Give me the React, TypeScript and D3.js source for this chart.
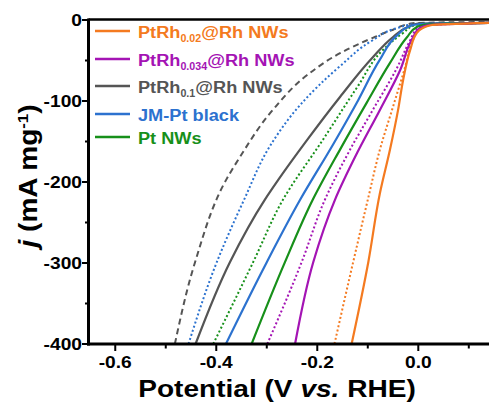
import React from "react";
import * as d3 from "d3";

type Pt = [number, number];

// Data: [potential (V vs RHE), j (mA mg^-1)]
const ptRh002Solid: Pt[] = [[-0.132, -400], [-0.099, -299], [-0.076, -214], [-0.056, -160], [-0.04, -111], [-0.03, -74], [-0.016, -37], [-0.003, -16], [0.009, -9.9], [0.027, -6.2], [0.14, -3.5]];
const ptRh002Dot: Pt[] = [[-0.166, -400], [-0.129, -299], [-0.1, -222], [-0.076, -160], [-0.05, -107], [-0.026, -58], [-0.011, -25], [0.003, -12], [0.019, -6.8], [0.14, -3.5]];
const ptRh0034Solid: Pt[] = [[-0.244, -400], [-0.208, -299], [-0.165, -222], [-0.121, -164], [-0.076, -111], [-0.036, -62], [-0.01, -21], [0.003, -9.9], [0.023, -6.2], [0.14, -3.5]];
const ptRh0034Dot: Pt[] = [[-0.299, -400], [-0.231, -299], [-0.185, -222], [-0.135, -160], [-0.09, -111], [-0.042, -59], [-0.016, -25], [-0.001, -9.9], [0.019, -5.6], [0.14, -3.5]];
const ptRh01Solid: Pt[] = [[-0.441, -400], [-0.373, -299], [-0.304, -222], [-0.278, -198], [-0.22, -148], [-0.155, -95], [-0.09, -46], [-0.05, -21], [-0.022, -9], [-0.001, -4.3], [0.14, -3.6]];
const ptRh01Dash: Pt[] = [[-0.482, -400], [-0.442, -299], [-0.381, -198], [-0.353, -169], [-0.288, -111], [-0.22, -68], [-0.155, -41], [-0.09, -22], [-0.05, -12], [-0.011, -4], [0.043, -3], [0.14, -2.5]];
const jmPtSolid: Pt[] = [[-0.381, -400], [-0.3, -299], [-0.234, -222], [-0.169, -154], [-0.119, -99], [-0.076, -49], [-0.042, -19], [-0.016, -7.4], [0.003, -4.9], [0.14, -3.5]];
const jmPtDot: Pt[] = [[-0.455, -400], [-0.399, -299], [-0.345, -222], [-0.294, -156], [-0.234, -105], [-0.155, -57], [-0.09, -25], [-0.042, -10], [-0.007, -5], [0.14, -3.5]];
const ptNwSolid: Pt[] = [[-0.33, -400], [-0.264, -299], [-0.209, -222], [-0.155, -160], [-0.102, -102], [-0.056, -53], [-0.022, -21], [-0.003, -8.6], [0.013, -5.6], [0.14, -3.5]];
const ptNwDot: Pt[] = [[-0.406, -400], [-0.327, -299], [-0.268, -222], [-0.189, -148], [-0.121, -83], [-0.07, -37], [-0.03, -16], [-0.005, -6], [0.14, -3.5]];

const xTicks = [-0.6, -0.4, -0.2, 0.0];
const xMinorTicks = [-0.5, -0.3, -0.1, 0.1];
const yTicks = [0, -100, -200, -300, -400];
const yMinorTicks = [-50, -150, -250, -350];

const legendBase = ["PtRh", "PtRh", "PtRh", "JM-Pt black", "Pt NWs"];
const legendSub = ["0.02", "0.034", "0.1", "", ""];
const legendRest = ["@Rh NWs", "@Rh NWs", "@Rh NWs", "", ""];
const colors = ["#F47A20", "#A414B4", "#555555", "#2C72CF", "#17901A"];

const series: { data: Pt[]; color: string; style: "solid" | "dot" | "dash" }[] = [
  { data: ptRh01Dash, color: colors[2], style: "dash" },
  { data: jmPtDot, color: colors[3], style: "dot" },
  { data: ptNwDot, color: colors[4], style: "dot" },
  { data: ptRh0034Dot, color: colors[1], style: "dot" },
  { data: ptRh002Dot, color: colors[0], style: "dot" },
  { data: ptRh01Solid, color: colors[2], style: "solid" },
  { data: jmPtSolid, color: colors[3], style: "solid" },
  { data: ptNwSolid, color: colors[4], style: "solid" },
  { data: ptRh0034Solid, color: colors[1], style: "solid" },
  { data: ptRh002Solid, color: colors[0], style: "solid" },
];

const legendY = [31, 59, 86, 114, 137];

const FONT = "'Liberation Sans', Arial, sans-serif";

export default function App() {
  const L = 90, R = 489, T = 20, B = 344;
  const x = d3.scaleLinear().domain([-0.65, 0.14]).range([L, R]);
  const y = d3.scaleLinear().domain([-400, 0]).range([B, T]);
  const gen = d3
    .line<Pt>()
    .x((d) => x(d[0]))
    .y((d) => y(d[1]))
    .curve(d3.curveMonotoneY);

  return (
    <svg
      width={489}
      height={403}
      style={{ position: "absolute", left: 0, top: 0, background: "#fff" }}
      fontFamily={FONT}
    >
      <defs>
        <clipPath id="plotClip">
          <rect x={L} y={T - 2} width={R - L} height={B - T + 2} />
        </clipPath>
      </defs>
      <g clipPath="url(#plotClip)">
        {series.map((s, i) => (
          <path
            key={i}
            d={gen(s.data) || ""}
            fill="none"
            stroke={s.color}
            strokeWidth={s.style === "solid" ? 2.2 : 2}
            strokeDasharray={s.style === "dot" ? "2,2.3" : s.style === "dash" ? "6,4" : undefined}
          />
        ))}
      </g>

      {/* axes frame */}
      <line x1={L - 1.5} x2={R} y1={T - 0.5} y2={T - 0.5} stroke="#000" strokeWidth={2.5} />
      <line x1={L - 1.5} x2={L - 1.5} y1={T - 1.5} y2={B + 1.5} stroke="#000" strokeWidth={3} />
      <line x1={L - 3} x2={R} y1={B} y2={B} stroke="#000" strokeWidth={3} />

      {/* y ticks */}
      {yTicks.map((t) => (
        <g key={"yt" + t}>
          <line x1={L - 8} x2={L - 1.5} y1={y(t)} y2={y(t)} stroke="#000" strokeWidth={2} />
          <text
            transform={`translate(82,${y(t)}) scale(1.2,1)`}
            textAnchor="end"
            dy="0.36em"
            fontSize={16}
            fontWeight="bold"
          >
            {t}
          </text>
        </g>
      ))}
      {yMinorTicks.map((t) => (
        <line key={"ym" + t} x1={L - 5} x2={L - 1.5} y1={y(t)} y2={y(t)} stroke="#000" strokeWidth={2} />
      ))}

      {/* x ticks */}
      {xTicks.map((t) => (
        <g key={"xt" + t}>
          <line x1={x(t)} x2={x(t)} y1={B} y2={B + 7} stroke="#000" strokeWidth={2} />
          <text
            transform={`translate(${x(t)},368) scale(1.2,1)`}
            textAnchor="middle"
            fontSize={16}
            fontWeight="bold"
          >
            {t.toFixed(1)}
          </text>
        </g>
      ))}
      {xMinorTicks.map((t) => (
        <line key={"xm" + t} x1={x(t)} x2={x(t)} y1={B} y2={B + 4.5} stroke="#000" strokeWidth={2} />
      ))}

      {/* axis titles */}
      <text
        transform="translate(277,396.5) scale(1.17,1)"
        textAnchor="middle"
        fontSize={24}
        fontWeight="bold"
      >
        Potential (V <tspan fontStyle="italic">vs.</tspan> RHE)
      </text>
      <text
        transform="translate(37,176) rotate(-90) scale(1.12,1)"
        textAnchor="middle"
        fontSize={25}
        fontWeight="bold"
      >
        <tspan fontStyle="italic">j</tspan> (mA mg
        <tspan fontSize={15} dy={-9}>-1</tspan>
        <tspan dy={9}>)</tspan>
      </text>

      {/* legend */}
      {legendBase.map((b, i) => (
        <g key={"lg" + i}>
          <line x1={95} x2={130} y1={legendY[i]} y2={legendY[i]} stroke={colors[i]} strokeWidth={2.5} />
          <text
            transform={`translate(138,${legendY[i] + 6.5}) scale(1.07,1)`}
            fontSize={17}
            fontWeight="bold"
            fill={colors[i]}
          >
            {b}
            {legendSub[i] && (
              <tspan fontSize={10} dy={4}>
                {legendSub[i]}
              </tspan>
            )}
            {legendRest[i] && <tspan dy={-4}>{legendRest[i]}</tspan>}
          </text>
        </g>
      ))}
    </svg>
  );
}
